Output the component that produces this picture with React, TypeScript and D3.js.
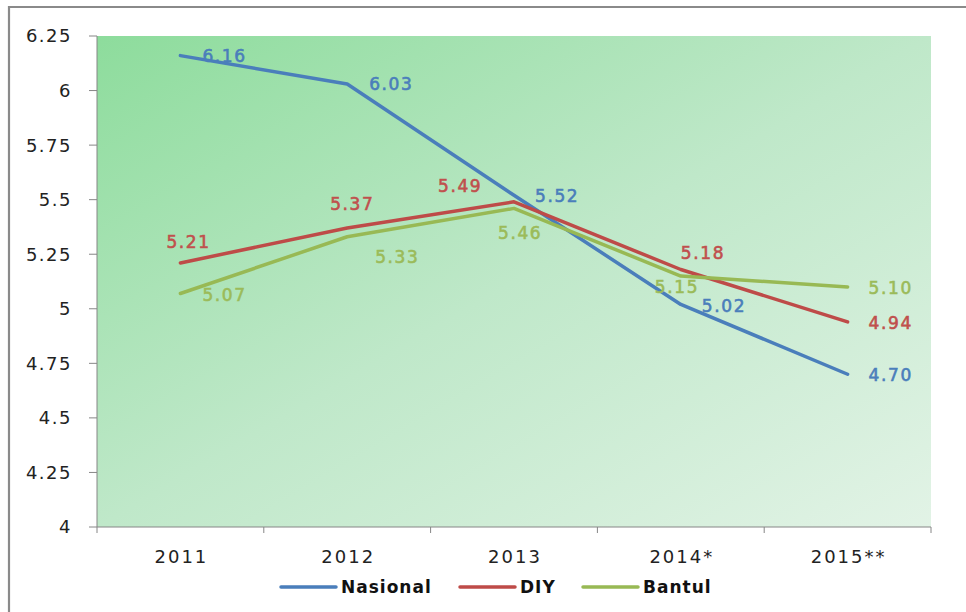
import React from "react";
import * as d3 from "d3";

const categories = ["2011", "2012", "2013", "2014*", "2015**"];
const nasional = [6.16, 6.03, 5.52, 5.02, 4.7];
const diy = [5.21, 5.37, 5.49, 5.18, 4.94];
const bantul = [5.07, 5.33, 5.46, 5.15, 5.1];
const yTicks = [4, 4.25, 4.5, 4.75, 5, 5.25, 5.5, 5.75, 6, 6.25];
const yTickLabels = ["4", "4.25", "4.5", "4.75", "5", "5.25", "5.5", "5.75", "6", "6.25"];
const seriesNames = ["Nasional", "DIY", "Bantul"];

// label offsets (dx from point, dy from point) per series/point
const labelOffsets = [
  [[22, 0], [22, 0], [21, 1], [21, 1], [21, 1]],
  [[-14, -21], [-17, -24], [-76, -16], [0, -17], [21, 1]],
  [[22, 1], [28, 20], [-16, 24], [-26, 11], [21, 1]],
];
const colors = ["#4a7ebb", "#be4b48", "#98b954"];
const labelColors = ["#4a7ebb", "#c0504d", "#9bbb59"];

export default function App() {
  const W = 966, H = 612;
  const left = 97, right = 931, top = 36, bottom = 527;
  const x = d3.scalePoint<string>().domain(categories).range([left, right]).padding(0.5);
  const bandStep = (right - left) / categories.length;
  const y = d3.scaleLinear().domain([4, 6.25]).range([bottom, top]);
  const data = [nasional, diy, bantul];
  const line = d3.line<number>().x((_, i) => x(categories[i])!).y((d) => y(d));
  const font = "'DejaVu Sans', Verdana, sans-serif";
  const legendX = [281, 460, 583];

  return (
    <svg width={W} height={H} style={{ position: "absolute", left: 0, top: 0, display: "block" }}>
      <defs>
        <linearGradient id="bg" x1="0" y1="0" x2="1" y2="1">
          <stop offset="0" stopColor="#8ddc9c" />
          <stop offset="0.5" stopColor="#bfe8c9" />
          <stop offset="1" stopColor="#e2f3e6" />
        </linearGradient>
      </defs>
      <rect x={0} y={0} width={W} height={H} fill="#ffffff" />
      <path d={`M9,${H} V7 H${W}`} fill="none" stroke="#8a8a8a" strokeWidth={2.2} />
      <rect x={left} y={top} width={right - left} height={bottom - top} fill="url(#bg)" />
      {/* y axis */}
      <line x1={left} x2={left} y1={top} y2={bottom} stroke="#868686" strokeWidth={1} />
      {yTicks.map((t, i) => (
        <g key={t}>
          <line x1={left - 8} x2={left} y1={y(t)} y2={y(t)} stroke="#868686" />
          <text x={72} y={y(t)} dy="0.36em" textAnchor="end" fontFamily={font} fontSize={18} letterSpacing={1.5} fill="#222">
            {yTickLabels[i]}
          </text>
        </g>
      ))}
      {/* x axis */}
      <line x1={left} x2={right} y1={bottom} y2={bottom} stroke="#868686" />
      {d3.range(categories.length + 1).map((i) => (
        <line key={i} x1={left + i * bandStep} x2={left + i * bandStep} y1={bottom} y2={bottom + 6} stroke="#868686" />
      ))}
      {categories.map((c) => (
        <text key={c} x={x(c)! + 1} y={557} dy="0.36em" textAnchor="middle" fontFamily={font} fontSize={18} letterSpacing={2} fill="#222">
          {c}
        </text>
      ))}
      {/* lines */}
      {data.map((s, si) => (
        <path key={si} d={line(s)!} fill="none" stroke={colors[si]} strokeWidth={3.5} strokeLinejoin="round" strokeLinecap="round" />
      ))}
      {/* labels */}
      {data.map((s, si) =>
        s.map((v, i) => (
          <text
            key={`${si}-${i}`}
            x={x(categories[i])! + labelOffsets[si][i][0]}
            y={y(v) + labelOffsets[si][i][1]}
            dy="0.36em"
            fontFamily={font}
            fontSize={17}
            letterSpacing={1.6}
            fill={labelColors[si]}
            stroke={labelColors[si]}
            strokeWidth={0.6}
          >
            {v.toFixed(2)}
          </text>
        ))
      )}
      {/* legend */}
      {seriesNames.map((n, i) => (
        <g key={n}>
          <line x1={legendX[i]} x2={legendX[i] + 55} y1={587} y2={587} stroke={colors[i]} strokeWidth={3.5} strokeLinecap="round" />
          <text x={legendX[i] + 60} y={587} dy="0.36em" fontFamily={font} fontWeight="bold" fontSize={17} letterSpacing={1} fill="#111">
            {n}
          </text>
        </g>
      ))}
    </svg>
  );
}
